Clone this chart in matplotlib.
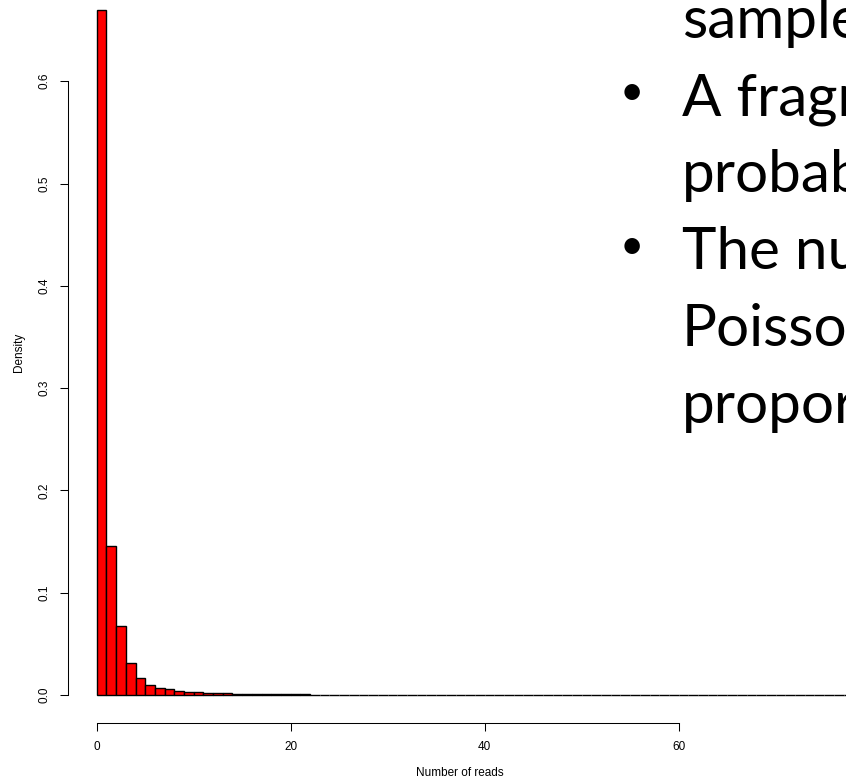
import matplotlib.pyplot as plt

# histogram of read counts (density per unit-wide bin, starting at 0)
bin_left = list(range(0, 78))
density = [
    0.670, 0.146, 0.067, 0.031, 0.0163, 0.0098, 0.0071, 0.0056, 0.0042, 0.0032,
    0.0026, 0.0022, 0.0019, 0.0016, 0.0014, 0.0012, 0.0010, 0.0009, 0.0008, 0.0007,
    0.0006, 0.00055, 0.0005, 0.00045, 0.0004, 0.00036, 0.00033, 0.0003, 0.00027, 0.00025,
    0.00023, 0.00021, 0.00019, 0.00018, 0.00016, 0.00015, 0.00014, 0.00013, 0.00012, 0.00011,
    0.0001, 0.00009, 0.00009, 0.00008, 0.00008, 0.00007, 0.00007, 0.00006, 0.00006, 0.00005,
    0.00005, 0.00005, 0.00004, 0.00004, 0.00004, 0.00003, 0.00003, 0.00003, 0.00003, 0.00002,
    0.00002, 0.00002, 0.00002, 0.00002, 0.00002, 0.00001, 0.00001, 0.00001, 0.00001, 0.00001,
    0.00001, 0.00001, 0.00001, 0.00001, 0.00001, 0.00001, 0.00001, 0.00001,
]
y_ticks = [0.0, 0.1, 0.2, 0.3, 0.4, 0.5, 0.6]
y_tick_labels = ["0.0", "0.1", "0.2", "0.3", "0.4", "0.5", "0.6"]
x_ticks = [0, 20, 40, 60]
x_tick_labels = ["0", "20", "40", "60"]

# slide text lying over the right side of the plot (clipped at the edge)
slide_lines = ["sample", "A fragment", "probability", "The number", "Poisson", "proportional"]
slide_bullets = [False, True, False, True, False, False]

plt.rcParams["font.family"] = ["Liberation Sans", "DejaVu Sans"]

fig = plt.figure(figsize=(8.46, 7.78), dpi=100)
ax = fig.add_axes([0, 0, 1, 1])
ax.set_xlim(-9.97, 77.25)
ax.set_ylim(-0.0811, 0.6794)

ax.bar(bin_left, density, width=1, align="edge", color="#ff0000",
       edgecolor="black", linewidth=1.0)

# R-style detached axes
for s in ["top", "right"]:
    ax.spines[s].set_visible(False)
ax.spines["left"].set_position(("data", -2.96))
ax.spines["left"].set_bounds(0, 0.6)
ax.spines["bottom"].set_position(("data", -0.0271))
ax.spines["bottom"].set_bounds(0, 60)
for s in ["left", "bottom"]:
    ax.spines[s].set_linewidth(0.75)

ax.set_yticks(y_ticks)
ax.set_yticklabels(y_tick_labels, rotation=90, va="center")
ax.set_xticks(x_ticks)
ax.set_xticklabels(x_tick_labels)
ax.tick_params(length=5.8, width=0.75, labelsize=8.5, pad=7)

ax.text(19 / 846, 1 - 352 / 778, "Density", transform=ax.transAxes,
        rotation=90, ha="center", va="center", fontsize=8.5)
ax.text(460 / 846, 1 - 773 / 778, "Number of reads", transform=ax.transAxes,
        ha="center", va="center", fontsize=8.5)

# slide bullets
for i, (line, bullet) in enumerate(zip(slide_lines, slide_bullets)):
    yb = 1 - (38 + 77 * i) / 778
    fig.text(682 / 846, yb, line, fontsize=42, family=["Lato", "DejaVu Sans"],
             va="baseline", ha="left")
    if bullet:
        fig.text(632 / 846, yb + 10 / 778, "\u2022", fontsize=30,
                 family=["Lato", "DejaVu Sans"], va="baseline", ha="center")

fig.savefig("out.png", dpi=100)
